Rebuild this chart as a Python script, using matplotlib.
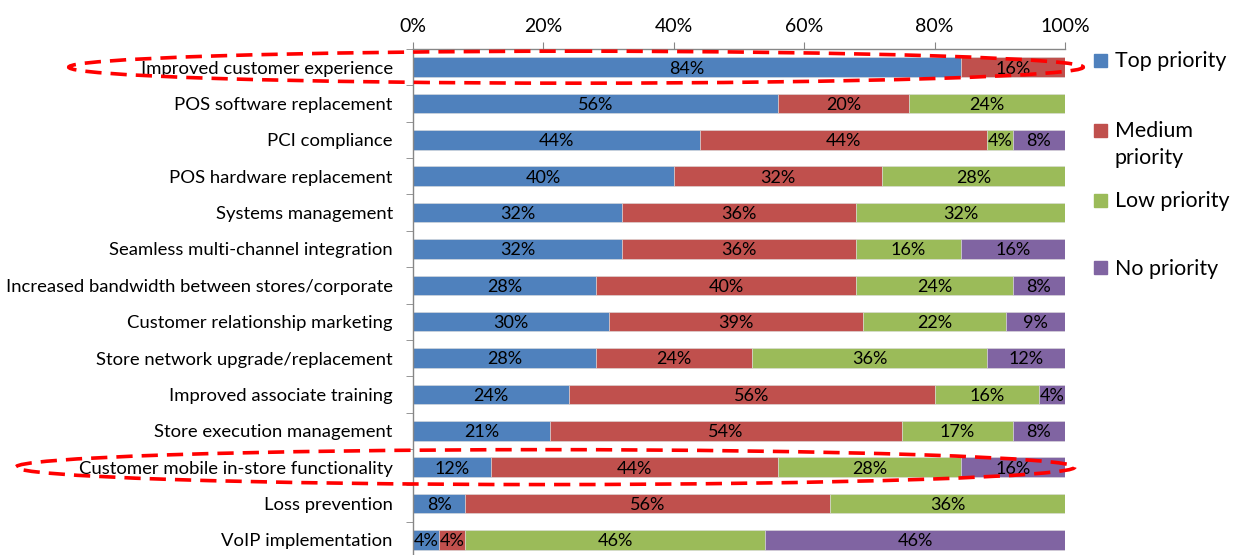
import matplotlib
matplotlib.use('Agg')
import matplotlib.pyplot as plt
from matplotlib.patches import Ellipse, Rectangle
import numpy as np

plt.rcParams['font.family'] = ['Lato', 'DejaVu Sans']

categories = [
    'Improved customer experience',
    'POS software replacement',
    'PCI compliance',
    'POS hardware replacement',
    'Systems management',
    'Seamless multi-channel integration',
    'Increased bandwidth between stores/corporate',
    'Customer relationship marketing',
    'Store network upgrade/replacement',
    'Improved associate training',
    'Store execution management',
    'Customer mobile in-store functionality',
    'Loss prevention',
    'VoIP implementation',
]
top = [84, 56, 44, 40, 32, 32, 28, 30, 28, 24, 21, 12, 8, 4]
medium = [16, 20, 44, 32, 36, 36, 40, 39, 24, 56, 54, 44, 56, 4]
low = [0, 24, 4, 28, 32, 16, 24, 22, 36, 16, 17, 28, 36, 46]
none = [0, 0, 8, 0, 0, 16, 8, 9, 12, 4, 8, 16, 0, 46]

series = ['Top priority', 'Medium\npriority', 'Low priority', 'No priority']
colors = ['#4F81BD', '#C0504D', '#9BBB59', '#8064A2']
highlight = [0, 11]  # rows circled in red

fig = plt.figure(figsize=(12.39, 5.55), dpi=100)
ax = fig.add_axes([413 / 1239, -3 / 555, 652 / 1239, 509 / 555])

y = np.arange(len(categories))
left = np.zeros(len(categories))
for vals, col in zip([top, medium, low, none], colors):
    vals = np.array(vals, dtype=float)
    ax.barh(y, vals, left=left, height=0.54, color=col,
            edgecolor='#dcdcdc', linewidth=0.4)
    for yi, l, v in zip(y, left, vals):
        if v > 0:
            ax.text(l + v / 2, yi + 0.04, f'{int(v)}%', ha='center', va='center',
                    fontsize=13, color='black')
    left += vals

ax.set_xlim(0, 100)
ax.set_ylim(len(categories) - 0.5, -0.5)
ax.xaxis.tick_top()
ax.set_xticks(range(0, 101, 20))
ax.set_xticklabels([f'{t}%' for t in range(0, 101, 20)], fontsize=14)
ax.tick_params(axis='x', direction='out', length=5, color='#868686', pad=5)

ax.set_yticks(y)
ax.set_yticklabels(categories, fontsize=13.3)
ax.set_yticks(np.arange(-0.5, len(categories) - 0.4, 1), minor=True)
ax.tick_params(axis='y', which='major', length=0, pad=14.5)
ax.tick_params(axis='y', which='minor', length=5, color='#868686', direction='out')

for side in ['right', 'bottom']:
    ax.spines[side].set_visible(False)
for side in ['top', 'left']:
    ax.spines[side].set_color('#868686')
    ax.spines[side].set_linewidth(1)

# red dashed rings around the two highlighted rows
for row, cx, w, h in zip(highlight, [25.0, 20.3], [155.6, 162.4], [0.88, 0.96]):
    ell = Ellipse((cx, row), w, h, fill=False, edgecolor='#FF0000', linewidth=2.6,
                  linestyle=(0, (4.5, 2.5)), clip_on=False, zorder=5)
    ax.add_patch(ell)

# legend on the right
leg_y = [60, 130, 200, 268]
for name, col, ly in zip(series, colors, leg_y):
    fy = 1 - ly / 555
    fig.patches.append(Rectangle((1094 / 1239, fy - 6.5 / 555), 13 / 1239, 13 / 555,
                                 transform=fig.transFigure, color=col))
    fig.text(1115 / 1239, fy + 9 / 555, name, ha='left', va='top', fontsize=15.4,
             linespacing=1.45)

fig.savefig('out.png', dpi=100)
